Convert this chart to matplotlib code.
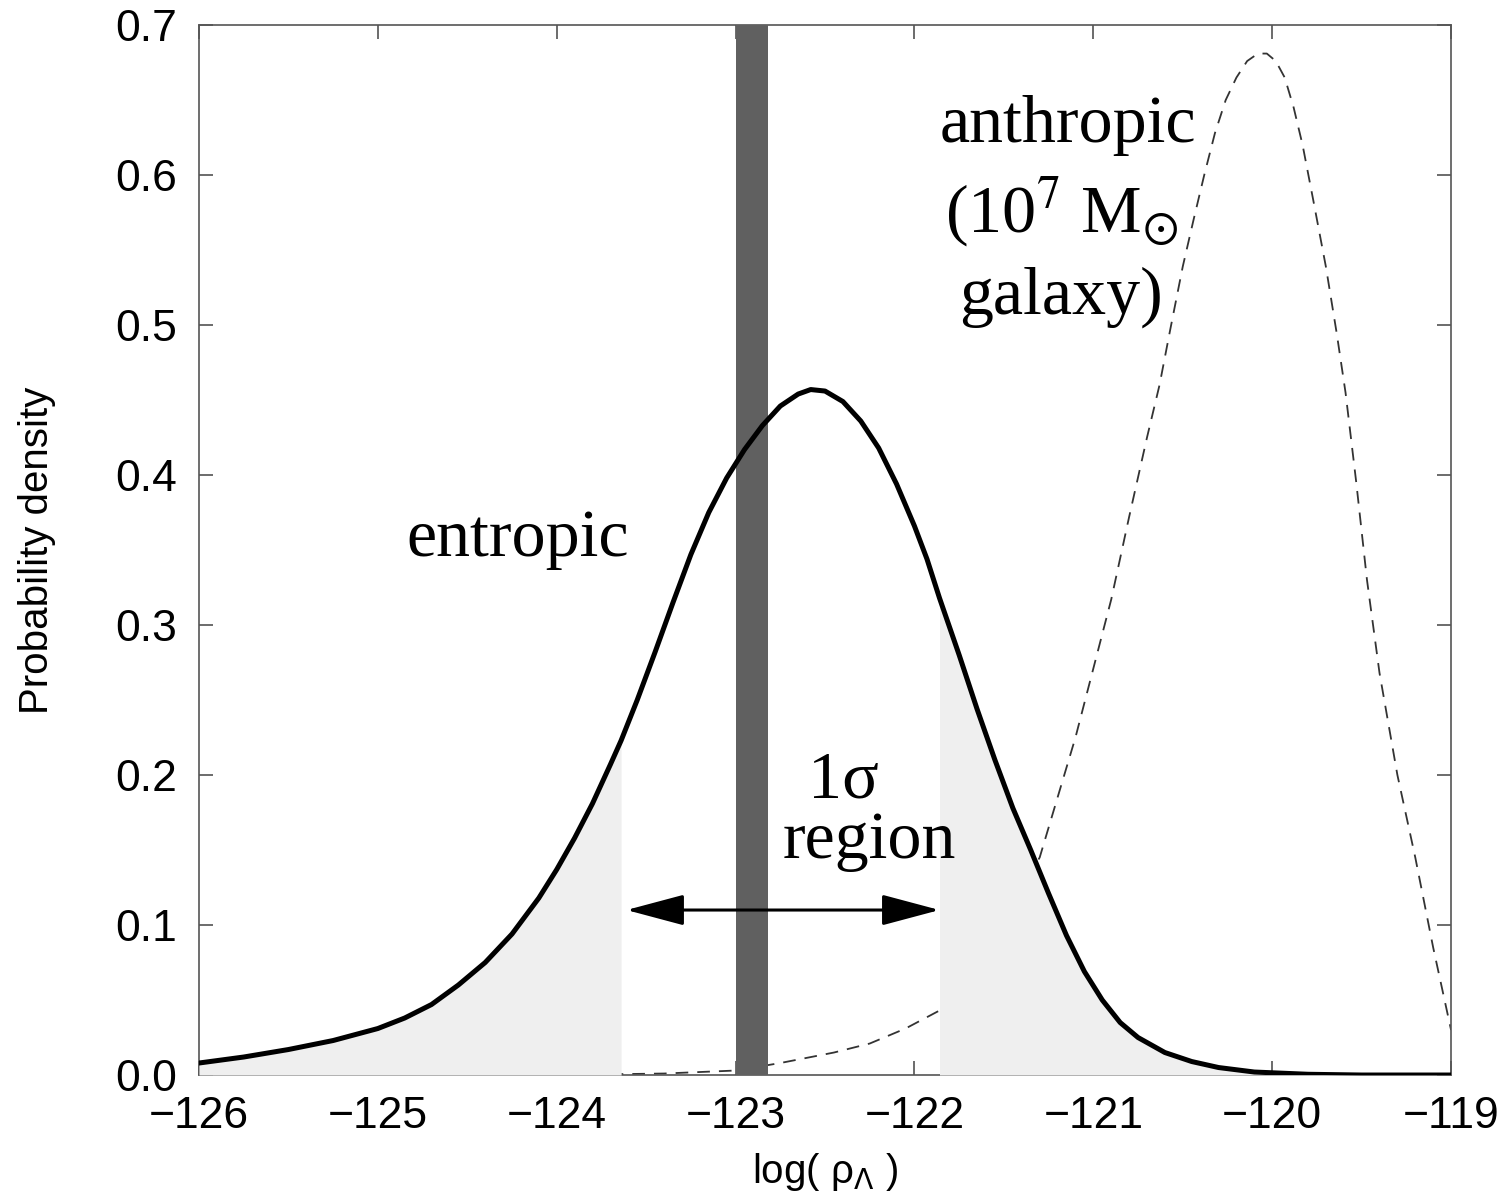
import numpy as np
import matplotlib
matplotlib.use('Agg')
import matplotlib.pyplot as plt

# entropic probability density (solid curve)
ent_x = [-126.0, -125.75, -125.5, -125.25, -125.0, -124.85, -124.7, -124.55, -124.4,
         -124.25, -124.1, -124.0, -123.9, -123.8, -123.7, -123.64, -123.55, -123.45,
         -123.35, -123.25, -123.15, -123.05, -122.95, -122.85, -122.75, -122.65, -122.58,
         -122.5, -122.4, -122.3, -122.2, -122.1, -122.0, -121.93, -121.86, -121.75,
         -121.65, -121.55, -121.45, -121.35, -121.25, -121.15, -121.05, -120.95, -120.85,
         -120.75, -120.6, -120.45, -120.3, -120.1, -119.8, -119.5, -119.0]
ent_y = [0.008, 0.012, 0.017, 0.023, 0.031, 0.038, 0.047, 0.060, 0.075,
         0.094, 0.118, 0.137, 0.158, 0.181, 0.207, 0.223, 0.250, 0.282,
         0.315, 0.347, 0.375, 0.398, 0.417, 0.433, 0.446, 0.454, 0.457,
         0.456, 0.449, 0.436, 0.418, 0.394, 0.366, 0.344, 0.318, 0.280,
         0.244, 0.210, 0.178, 0.150, 0.121, 0.093, 0.069, 0.050, 0.035,
         0.025, 0.015, 0.009, 0.005, 0.002, 0.0005, 0.0, 0.0]

# anthropic probability density (dashed curve)
ant_x = [-126.0, -124.0, -123.4, -123.0, -122.75, -122.45, -122.25, -122.05, -121.86,
         -121.6, -121.3, -121.1, -120.9, -120.8, -120.7, -120.63, -120.57, -120.5,
         -120.44, -120.38, -120.32, -120.26, -120.2, -120.14, -120.08, -120.03, -119.98,
         -119.93, -119.88, -119.83, -119.77, -119.7, -119.64, -119.59, -119.53, -119.47,
         -119.4, -119.3, -119.2, -119.1, -119.0]
ant_y = [0.0, 0.0, 0.001, 0.003, 0.008, 0.015, 0.021, 0.031, 0.043,
         0.085, 0.145, 0.225, 0.317, 0.372, 0.425, 0.460, 0.497, 0.539,
         0.570, 0.600, 0.628, 0.650, 0.665, 0.676, 0.681, 0.681, 0.676,
         0.665, 0.645, 0.620, 0.583, 0.539, 0.495, 0.455, 0.395, 0.330,
         0.268, 0.200, 0.145, 0.085, 0.030]

obs_band = (-123.0, -122.82)      # measured value band
sigma_lo, sigma_hi = -123.64, -121.86  # 1 sigma region
arrow_y = 0.11

xticks = [-126, -125, -124, -123, -122, -121, -120, -119]
yticks = [0.0, 0.1, 0.2, 0.3, 0.4, 0.5, 0.6, 0.7]

plt.rcParams['font.family'] = ['Liberation Sans', 'DejaVu Sans']

fig = plt.figure(figsize=(15.12, 11.99), dpi=100)
ax = fig.add_axes([0.1316, 0.1034, 0.8281, 0.8757])

ex = np.array(ent_x)
ey = np.array(ent_y)

ax.plot(ant_x, ant_y, color='#333333', lw=1.3, ls=(0, (7, 5)), zorder=2)
ax.fill_between(ex, 0, ey, where=ex <= sigma_lo + 1e-9, color='#efefef', lw=0, zorder=3)
ax.fill_between(ex, 0, ey, where=ex >= sigma_hi - 1e-9, color='#efefef', lw=0, zorder=3)
ax.axvspan(obs_band[0], obs_band[1], color='#606060', lw=0, zorder=4)
ax.plot(ent_x, ent_y, color='black', lw=3.6, zorder=5, solid_joinstyle='round')

ax.annotate('', xy=(sigma_hi, arrow_y), xytext=(sigma_lo + 0.03, arrow_y),
            arrowprops=dict(arrowstyle='<|-|>,head_length=1.5,head_width=0.4',
                            mutation_scale=24, color='black', lw=2.2,
                            shrinkA=0, shrinkB=0), zorder=6)

serif = dict(family=['Liberation Serif', 'DejaVu Serif'], fontsize=49, math_fontfamily='stix',
             ha='center', va='baseline', zorder=7)
ax.text(-124.22, 0.346, 'entropic', **serif)
ax.text(-121.14, 0.622, 'anthropic', **serif)
ax.text(-121.18, 0.562, '(10$^7$ M$_{\\odot}$', **serif)
ax.text(-121.18, 0.508, 'galaxy)', **serif)
ax.text(-122.40, 0.185, '1\u03c3', **serif)
ax.text(-122.25, 0.145, 'region', **serif)

ax.set_xlim(-126, -119)
ax.set_ylim(0, 0.7)
ax.set_xticks(xticks)
ax.set_xticklabels(['\u2212%d' % abs(t) for t in xticks])
ax.set_yticks(yticks)
ax.set_yticklabels(['%.1f' % t for t in yticks])
ax.tick_params(direction='in', length=10, width=1.1, color='#444444',
               top=True, right=True, labelsize=32)
ax.tick_params(axis='x', pad=15)
ax.tick_params(axis='y', pad=16)
for s in ax.spines.values():
    s.set_color('#555555')
    s.set_linewidth(1.2)

ax.set_xlabel('log( \u03c1$_{\\Lambda}$ )', fontsize=29)
ax.set_ylabel('Probability density', fontsize=29)
ax.xaxis.set_label_coords(0.5, -0.072)
ax.yaxis.set_label_coords(-0.114, 0.5)

fig.savefig('out.png', dpi=100)
